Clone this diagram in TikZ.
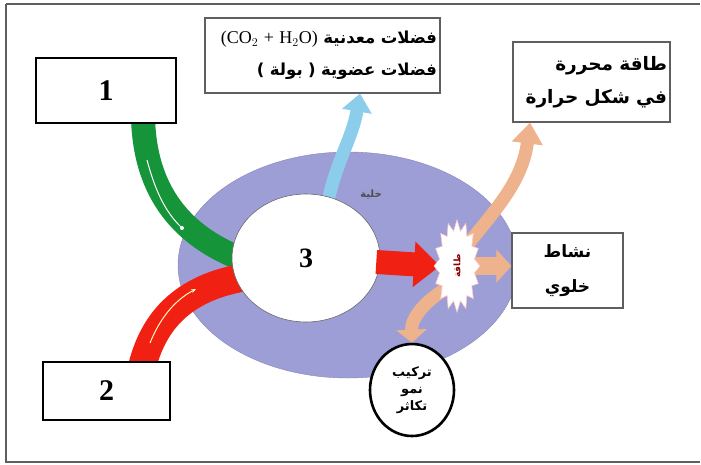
\documentclass[tikz,border=0pt]{standalone}
\usepackage{fontspec}
\setmainfont{Liberation Serif}
\newfontfamily\arabicfont[Script=Arabic]{DejaVu Sans}
\TeXXeTstate=1
\usetikzlibrary{arrows.meta,shapes.geometric}
\definecolor{cellblue}{RGB}{158,158,214}
\definecolor{bandgreen}{RGB}{22,148,58}
\definecolor{bandred}{RGB}{240,32,18}
\definecolor{skyb}{RGB}{140,205,235}
\definecolor{peach}{RGB}{238,178,140}
\definecolor{framegray}{RGB}{95,95,95}
\tikzset{
  numbox/.style={draw=black, line width=2.8pt, fill=white, inner sep=0pt,
    font=\bfseries\fontsize{30}{30}\selectfont},
  txtbox/.style={draw=framegray, line width=1.1pt, fill=white, inner sep=1pt,
    font=\arabicfont\bfseries\fontsize{17}{31}\selectfont},
  band/.style={line cap=butt},
  peacharrow/.style={peach, line width=13pt}
}
\begin{document}
\begin{tikzpicture}[x=1pt,y=-1pt]
\useasboundingbox (0,0) rectangle (701,464);
% frame
\draw[framegray, line width=1.6pt] (6,4) -- (700,4);
\draw[framegray, line width=1.6pt] (6,4) -- (6,462) -- (700,462);
% cell
\node[ellipse, fill=cellblue, draw=cellblue!85!black, line width=0.4pt,
  minimum width=340, minimum height=226, inner sep=0pt] (cell) at (348,265) {};
\node[font=\arabicfont\bfseries\fontsize{10}{10}\selectfont, text=black!70] (celllbl) at (371,195) {\beginR خلية\endR};
% bands
\draw[bandgreen, line width=24pt, band] (143,118) .. controls (145,190) and (180,238) .. (250,262);
\draw[bandred, line width=28pt, band] (142,367) .. controls (155,315) and (190,282) .. (262,275);
\coordinate (g1) at (147,160);
\coordinate (g2) at (182,228);
\draw[white, line width=1pt] (g1) .. controls (155,190) and (165,212) .. (g2);
\fill[white] (g2) circle (2);
\coordinate (r1) at (150,343);
\coordinate (r2) at (196,289);
\draw[white!75!yellow, line width=1pt, -{Stealth[length=5pt,width=4pt]}] (r1) .. controls (160,318) and (175,300) .. (r2);
% boxes
\node[numbox, minimum width=140, minimum height=65] (b1) at (106,90.5) {1};
\node[numbox, line width=2.4pt, minimum width=127, minimum height=58] (b2) at (106.5,391) {2};
\node[txtbox, minimum width=235, minimum height=75, text width=229, align=right,
  font=\arabicfont\bfseries\fontsize{16.5}{32}\selectfont] (waste) at (322.5,55.5)
  {\beginR فضلات معدنية {\rmfamily\mdseries\fontsize{18}{32}\selectfont\beginL(CO$_2$ + H$_2$O)\endL}\endR\\
   \beginR فضلات عضوية ( بولة )\endR};
\node[txtbox, minimum width=157, minimum height=80, text width=151, align=right,
  font=\arabicfont\bfseries\fontsize{18.5}{33}\selectfont] (heat) at (591.5,82)
  {\beginR طاقة محررة\endR\\ \beginR في شكل حرارة\endR};
\node[txtbox, minimum width=111, minimum height=75, text width=100, align=center,
  font=\arabicfont\bfseries\fontsize{17}{35}\selectfont] (act) at (567.5,270.5)
  {\beginR نشاط\endR\\ \beginR خلوي\endR};
% blue arrow
\draw[skyb, line width=13pt, -{Triangle[width=29pt,length=18pt]}] (326,210) .. controls (336,160) and (352,140) .. (waste.south -| 360,0);
% core
\node[ellipse, fill=white, draw=black!60, line width=0.6pt, minimum width=148, minimum height=128,
  inner sep=0pt, font=\bfseries\fontsize{28}{28}\selectfont] (core) at (306,258) {3};
% small circle
\node[ellipse, fill=white, draw=black, line width=2.6pt, minimum width=84, minimum height=92,
  inner sep=0pt, align=center, font=\arabicfont\bfseries\fontsize{13}{17}\selectfont] (synth) at (412,390)
  {\beginR تركيب\endR\\ \beginR نمو\endR\\ \beginR تكاثر\endR};
% red arrow
\coordinate (burstc) at (457,266);
\draw[bandred, line width=24pt, -{Triangle[width=44pt,length=26pt]}] (core.east) ++(-4,4) -- (burstc -| 440,0);
% peach arrows
\draw[peacharrow, -{Triangle[width=30pt,length=21pt]}] (462,252) .. controls (490,215) and (522,185) .. (heat.south -| 530,0);
\draw[peacharrow, line width=18pt, -{Triangle[width=32pt,length=15pt]}] (burstc) -- (act.west |- burstc);
\draw[peacharrow, -{Triangle[width=30pt,length=13pt]}] (452,285) .. controls (425,300) and (411,318) .. (synth.north);
% burst
\node[star, star points=16, star point ratio=1.3, minimum size=92, inner sep=0pt,
  fill=white, draw=red!20, line width=0.6pt, xscale=0.5, transform shape] (burst) at (burstc) {};
\node[rotate=90, text=red!55!black, font=\arabicfont\bfseries\fontsize{9}{9}\selectfont] (bursttxt) at (burstc) {\beginR طاقة\endR};
\end{tikzpicture}
\end{document}
